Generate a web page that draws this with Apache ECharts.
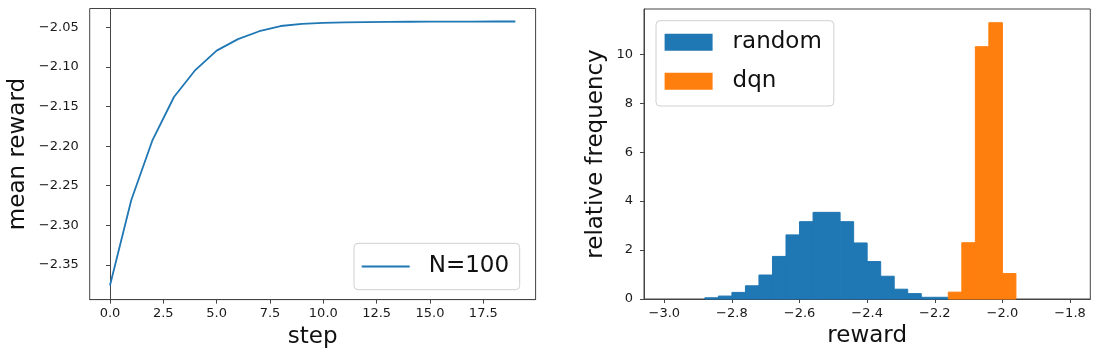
<!DOCTYPE html>
<html>
<head>
<meta charset="utf-8">
<script src="https://cdn.jsdelivr.net/npm/echarts@6/dist/echarts.min.js"></script>
<style>
  html, body { margin: 0; padding: 0; background: #fff; }
  #chart { width: 1098px; height: 360px; }
</style>
</head>
<body>
<div id="chart"></div>
<script>
// ---- Left panel: mean reward per step ----
const steps = [0,1,2,3,4,5,6,7,8,9,10,11,12,13,14,15,16,17,18,19];
const meanReward = [-2.376,-2.268,-2.192,-2.138,-2.104,-2.0795,-2.065,-2.055,-2.0484,-2.0458,
                    -2.0444,-2.0438,-2.0434,-2.0432,-2.0430,-2.0429,-2.0428,-2.0428,-2.0427,-2.0427];
const stepTicks = [0, 2.5, 5, 7.5, 10, 12.5, 15, 17.5];
const meanTicks = [-2.35, -2.30, -2.25, -2.20, -2.15, -2.10, -2.05];

// ---- Right panel: histograms (relative frequency, bin width 0.04) ----
const binWidth = 0.04;
const randomBinLeft = [-2.88,-2.84,-2.80,-2.76,-2.72,-2.68,-2.64,-2.60,-2.56,-2.52,-2.48,-2.44,-2.40,-2.36,-2.32,-2.28,-2.24,-2.20];
const randomFreq    = [0.05, 0.12, 0.27, 0.54, 0.98, 1.74, 2.62, 3.16, 3.54, 3.54, 3.16, 2.29, 1.53, 0.93, 0.40, 0.22, 0.07, 0.07];
const dqnBinLeft = [-2.16,-2.12,-2.08,-2.04,-2.00];
const dqnFreq    = [0.28, 2.30, 10.31, 11.29, 1.04];
const rewardTicks = [-3.0, -2.8, -2.6, -2.4, -2.2, -2.0, -1.8];
const freqTicks = [0, 2, 4, 6, 8, 10];

const FONT = "'DejaVu Sans', 'Liberation Sans', sans-serif";
const AX = '#444';
const minus = s => s.replace('-', '\u2212');

function histData(lefts, freqs) {
  return lefts.map((l, i) => [l, l + binWidth, freqs[i]]);
}
function histRender(color) {
  return function (params, api) {
    const p0 = api.coord([api.value(0), api.value(2)]);
    const p1 = api.coord([api.value(1), 0]);
    return {
      type: 'rect',
      shape: { x: p0[0], y: p0[1], width: p1[0] - p0[0], height: p1[1] - p0[1] },
      style: { fill: color, stroke: color, lineWidth: 1 }
    };
  };
}

function axisCommon(ticks, digits, labelMargin) {
  return {
    axisLine: { show: true, lineStyle: { color: AX, width: 1 } },
    axisTick: { show: true, length: 4, lineStyle: { color: AX }, customValues: ticks },
    axisLabel: {
      customValues: ticks, margin: labelMargin, color: '#1a1a1a', fontSize: 13, fontFamily: FONT,
      formatter: v => minus(Number(v).toFixed(digits))
    },
    splitLine: { show: false }
  };
}

const chart = echarts.init(document.getElementById('chart'), null, { renderer: 'canvas' });
chart.setOption({
  animation: false,
  backgroundColor: '#fff',
  grid: [
    { left: 89.7, right: 1098 - 535.6, top: 8.5, bottom: 360 - 299.6, show: true, borderColor: AX, borderWidth: 1 },
    { left: 644, right: 1098 - 1090.3, top: 9, bottom: 61, show: true, borderColor: AX, borderWidth: 1 }
  ],
  xAxis: [
    Object.assign({
      type: 'value', gridIndex: 0, min: -0.95, max: 19.95,
      name: 'step', nameLocation: 'middle', nameGap: 26,
      nameTextStyle: { fontSize: 23, fontFamily: FONT, color: '#111' }
    }, axisCommon(stepTicks, 1, 8)),
    Object.assign({
      type: 'value', gridIndex: 1, min: -3.06, max: -1.74,
      name: 'reward', nameLocation: 'middle', nameGap: 26,
      nameTextStyle: { fontSize: 23, fontFamily: FONT, color: '#111' }
    }, axisCommon(rewardTicks, 1, 8))
  ],
  yAxis: [
    Object.assign({
      type: 'value', gridIndex: 0, min: -2.3937, max: -2.0263,
      name: 'mean reward', nameLocation: 'middle', nameGap: 60,
      nameTextStyle: { fontSize: 23, fontFamily: FONT, color: '#111' }
    }, axisCommon(meanTicks, 2, 11)),
    Object.assign({
      type: 'value', gridIndex: 1, min: 0, max: 11.85,
      name: 'relative frequency', nameLocation: 'middle', nameGap: 36,
      nameTextStyle: { fontSize: 23, fontFamily: FONT, color: '#111' }
    }, axisCommon(freqTicks, 0, 11))
  ],
  legend: [
    {
      data: ['N=100'], left: 354, top: 243.3, orient: 'vertical',
      padding: [11.7, 10.6, 11.7, 7.7],
      itemWidth: 48, itemHeight: 2, icon: 'rect',
      borderColor: '#d0d0d0', borderWidth: 1, borderRadius: 4, backgroundColor: 'rgba(255,255,255,0.85)',
      textStyle: { fontSize: 23, fontFamily: FONT, color: '#111', lineHeight: 20, padding: [0, 0, 0, 14] },
      selectedMode: false
    },
    {
      data: ['random', 'dqn'], left: 656, top: 20.7, orient: 'vertical',
      padding: [10, 12, 13.3, 8.6], itemGap: 16,
      itemWidth: 48, itemHeight: 17, icon: 'rect',
      borderColor: '#d0d0d0', borderWidth: 1, borderRadius: 4, backgroundColor: 'rgba(255,255,255,0.85)',
      textStyle: { fontSize: 23, fontFamily: FONT, color: '#111', lineHeight: 20, padding: [0, 0, 0, 15] },
      selectedMode: false
    }
  ],
  series: [
    {
      name: 'N=100', type: 'line', xAxisIndex: 0, yAxisIndex: 0,
      data: steps.map((s, i) => [s, meanReward[i]]),
      symbol: 'none', lineStyle: { color: '#1f77b4', width: 1.8 }, itemStyle: { color: '#1f77b4' }
    },
    {
      name: 'random', type: 'custom', xAxisIndex: 1, yAxisIndex: 1,
      data: histData(randomBinLeft, randomFreq), encode: { x: [0, 1], y: 2 },
      renderItem: histRender('#1f77b4'), itemStyle: { color: '#1f77b4' }
    },
    {
      name: 'dqn', type: 'custom', xAxisIndex: 1, yAxisIndex: 1,
      data: histData(dqnBinLeft, dqnFreq), encode: { x: [0, 1], y: 2 },
      renderItem: histRender('#ff7f0e'), itemStyle: { color: '#ff7f0e' }
    }
  ]
});
</script>
</body>
</html>
